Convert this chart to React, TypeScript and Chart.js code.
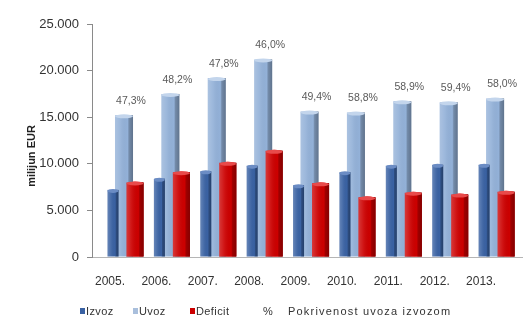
import React, { useEffect, useRef } from "react";
import { Chart, registerables } from "chart.js";

Chart.register(...registerables);

const years = ["2005.", "2006.", "2007.", "2008.", "2009.", "2010.", "2011.", "2012.", "2013."];
const izvoz = [7200, 8400, 9200, 9800, 7700, 9100, 9800, 9900, 9900];
const uvoz = [15200, 17500, 19200, 21200, 15600, 15500, 16700, 16600, 17000];
const deficit = [8000, 9100, 10100, 11400, 7900, 6400, 6900, 6700, 7000];
const coverage = ["47,3%", "48,2%", "47,8%", "46,0%", "49,4%", "58,8%", "58,9%", "59,4%", "58,0%"];
const yMax = 25000;
const yStep = 5000;
const yTitle = "milijun EUR";
const legendNames = ["Izvoz", "Uvoz", "Deficit"];
const legendExtra = "Pokrivenost uvoza izvozom";

const FONT = "'Liberation Sans', Arial, sans-serif";
const COLORS = ["#3a62a3", "#93b1d8", "#cc0000"];
const CAPS = ["#6b8cc4", "#c3d5ec", "#e84a4a"];

function fmt(v: number) {
  return String(v).replace(/\B(?=(\d{3})+(?!\d))/g, ".");
}

function drawOverlay(chart: any, meta: any) {
  const ctx = chart.ctx;
  const cap = CAPS[meta.index] || "#fff";
  meta.data.forEach((el: any) => {
    const { x, y, base, width } = el.getProps(["x", "y", "base", "width"], true);
    const left = x - width / 2;
    const g = ctx.createLinearGradient(left, 0, left + width, 0);
    g.addColorStop(0, "rgba(255,255,255,0.22)");
    g.addColorStop(0.3, "rgba(255,255,255,0.08)");
    g.addColorStop(0.7, "rgba(0,0,0,0.0)");
    g.addColorStop(0.78, "rgba(0,0,0,0.22)");
    g.addColorStop(1, "rgba(0,0,0,0.35)");
    ctx.save();
    ctx.fillStyle = g;
    ctx.fillRect(left, y, width, base - y);
    ctx.beginPath();
    ctx.ellipse(x, y + 1, width / 2, 2, 0, 0, Math.PI * 2);
    ctx.fillStyle = cap;
    ctx.fill();
    ctx.restore();
  });
}

const decor = {
  id: "decor",
  afterDatasetDraw(chart: any, args: any) {
    drawOverlay(chart, args.meta);
  },
  afterDatasetsDraw(chart: any) {
    const ctx = chart.ctx;
    const dm = chart.getDatasetMeta(2);
    dm.data.forEach((el: any) => el.draw(ctx));
    drawOverlay(chart, dm);
    const um = chart.getDatasetMeta(1);
    ctx.save();
    ctx.font = `10.5px ${FONT}`;
    ctx.fillStyle = "#5a5a5a";
    ctx.textAlign = "center";
    ctx.textBaseline = "middle";
    um.data.forEach((el: any, i: number) => {
      const { x, y } = el.getProps(["x", "y"], true);
      ctx.fillText(coverage[i], x + 7, y - 14);
    });
    ctx.translate(32, 156);
    ctx.rotate(-Math.PI / 2);
    ctx.font = `bold 11px ${FONT}`;
    ctx.fillStyle = "#222";
    ctx.fillText(yTitle, 0, 0);
    ctx.restore();
  },
};

export default function App() {
  const ref = useRef<HTMLCanvasElement | null>(null);
  useEffect(() => {
    if (!ref.current) return;
    const series = [izvoz, uvoz, deficit];
    const barPct = [1.0, 1.64, 1.55];
    const chart = new Chart(ref.current, {
      type: "bar",
      data: {
        datasets: series.map((s, k) => ({
          label: legendNames[k],
          data: s.map((v, i) => ({ x: i, y: v })),
          backgroundColor: COLORS[k],
          barPercentage: barPct[k],
          categoryPercentage: 0.711,
        })),
      },
      options: {
        animation: false,
        responsive: false,
        maintainAspectRatio: false,
        layout: { padding: { left: 0, right: 8, top: 24, bottom: 0 } },
        plugins: { legend: { display: false }, tooltip: { enabled: false } },
        scales: {
          x: {
            type: "linear",
            min: -0.69,
            max: 8.58,
            offset: false,
            grid: { display: false },
            border: { display: true, color: "#b5b5b5" },
            ticks: {
              stepSize: 1,
              includeBounds: false,
              autoSkip: false,
              maxRotation: 0,
              labelOffset: -14,
              padding: 9,
              color: "#333",
              font: { family: FONT, size: 12 },
              callback: (v: any) => (years[v] !== undefined ? years[v] : ""),
            },
            afterFit: (s: any) => {
              s.height = 61;
            },
          },
          y: {
            min: 0,
            max: yMax,
            ticks: {
              stepSize: yStep,
              padding: 8,
              color: "#333",
              font: { family: FONT, size: 13 },
              callback: (v: any) => fmt(v),
            },
            grid: { display: true, drawOnChartArea: false, drawTicks: true, tickLength: 5, color: "#8a8a8a" },
            border: { display: true, color: "#8a8a8a" },
            afterFit: (s: any) => {
              s.width = 92;
            },
          },
        },
      } as any,
      plugins: [decor],
    });
    return () => chart.destroy();
  }, []);

  const textStyle: React.CSSProperties = {
    position: "absolute",
    top: 304,
    fontFamily: FONT,
    fontSize: 11,
    lineHeight: "14px",
    color: "#333",
    whiteSpace: "nowrap",
    letterSpacing: "0.4px",
  };
  const box = (left: number, color: string): React.CSSProperties => ({
    position: "absolute",
    left,
    top: 308,
    width: 5,
    height: 6,
    background: color,
  });

  return (
    <div style={{ position: "fixed", left: 0, top: 0, width: 530, height: 318, background: "#fff", overflow: "hidden" }}>
      <canvas ref={ref} width={530} height={318} style={{ display: "block", width: 530, height: 318 }} />
      <div style={box(80, COLORS[0])} />
      <span style={{ ...textStyle, left: 86 }}>{legendNames[0]}</span>
      <div style={box(133, "#a9bfdc")} />
      <span style={{ ...textStyle, left: 139 }}>{legendNames[1]}</span>
      <div style={box(190, COLORS[2])} />
      <span style={{ ...textStyle, left: 196 }}>{legendNames[2]}</span>
      <span style={{ ...textStyle, left: 263 }}>%</span>
      <span style={{ ...textStyle, left: 288, letterSpacing: "1.2px" }}>{legendExtra}</span>
    </div>
  );
}
